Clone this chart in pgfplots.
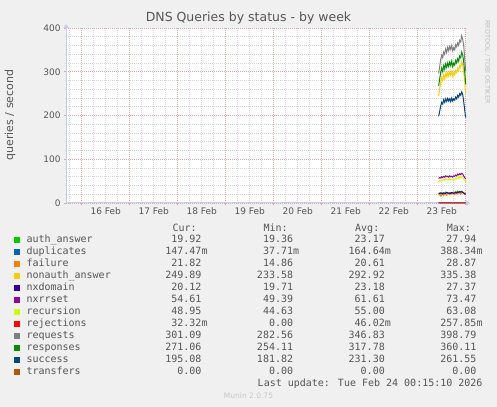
\documentclass[border=0pt]{standalone}
\usepackage{fontspec}
\setmainfont{DejaVu Sans}
\newfontfamily\mono{DejaVu Sans Mono}
\usepackage{pgfplots}
\usepackage{pgfplotstable}
\pgfplotsset{compat=1.18}
\usetikzlibrary{arrows.meta}

\definecolor{bgcol}{HTML}{F0F0F0}
\definecolor{txtcol}{HTML}{555555}
\definecolor{axcol}{HTML}{C4CCF2}
\definecolor{majgrid}{HTML}{E0A8A8}
\definecolor{mingrid}{HTML}{D8D8D8}
\definecolor{cAA}{HTML}{00CC00}
\definecolor{cDU}{HTML}{0066B3}
\definecolor{cFA}{HTML}{FF8000}
\definecolor{cNA}{HTML}{FFCC00}
\definecolor{cND}{HTML}{330099}
\definecolor{cNR}{HTML}{990099}
\definecolor{cRC}{HTML}{CCFF00}
\definecolor{cRJ}{HTML}{FF0000}
\definecolor{cRQ}{HTML}{808080}
\definecolor{cRS}{HTML}{008F00}
\definecolor{cSU}{HTML}{00487D}
\definecolor{cTR}{HTML}{B35A00}

\pgfplotstableread{
h aa du fa na nd nr rc rj rq rs su tr
178.5 22 0.15 18 245 21 56 49 0.03 296 268 198 0
179 23 0.16 20 262 22 58 51 0.05 312 284 210 0
179.5 21 0.14 16 276 23 57 50 0.04 328 298 222 0
180 24 0.17 19 286 22 60 53 0.06 338 308 230 0
180.5 22 0.15 21 279 21 58 51 0.03 332 300 226 0
181 23 0.18 17 292 23 61 54 0.05 345 314 236 0
181.5 22 0.16 22 284 22 59 52 0.04 340 306 230 0
182 25 0.15 20 296 22 62 55 0.07 352 318 238 0
182.5 23 0.17 18 288 24 60 53 0.05 344 310 232 0
183 24 0.16 23 298 23 61 54 0.04 356 320 239 0
183.5 22 0.15 21 290 22 59 52 0.06 348 312 233 0
184 23 0.18 19 299 23 62 55 0.05 358 322 238 0
184.5 24 0.16 22 292 22 60 53 0.03 351 314 232 0
185 22 0.17 20 301 24 61 54 0.05 360 324 240 0
185.5 23 0.15 24 290 23 59 52 0.04 348 312 233 0
186 25 0.16 21 298 22 62 55 0.06 355 320 238 0
186.5 24 0.17 19 293 23 61 54 0.05 350 315 235 0
187 26 0.18 22 303 24 64 57 0.04 362 326 242 0
187.5 24 0.16 23 298 23 62 55 0.06 357 320 238 0
188 27 0.17 21 308 25 66 59 0.05 366 330 246 0
188.5 25 0.15 24 302 24 64 57 0.04 360 324 242 0
189 26 0.18 22 314 26 67 60 0.05 372 336 250 0
189.5 24 0.16 20 310 25 65 58 0.06 368 332 246 0
190 27 0.17 23 322 26 68 61 0.04 382 345 254 0
190.5 25 0.16 25 315 24 66 59 0.05 374 338 248 0
191 23 0.15 22 300 23 62 55 0.04 360 322 232 0
191.5 21 0.14 20 278 21 58 51 0.03 330 300 212 0
192 19.92 0.147 21.82 249.89 20.12 54.61 48.95 0.032 301.09 271.06 195.08 0
}\data

\begin{document}
\begin{tikzpicture}
\fill[bgcol] (0bp,0bp) rectangle (497bp,407bp);
\begin{axis}[
  at={(66.2bp,204bp)}, anchor=south west,
  scale only axis, width=400bp, height=175bp,
  xmin=-7.75, xmax=192.25, ymin=0, ymax=400,
  clip=false,
  axis background/.style={fill=white},
  axis x line=bottom, axis y line=left,
  axis line style={draw=axcol, line width=1bp, -{Triangle[length=4bp,width=5bp]}, shorten >=-4bp},
  xtick={0,24,...,192}, xticklabels={,,,,,,,,,},
  extra x ticks={12,36,...,180},
  extra x tick labels={16 Feb,17 Feb,18 Feb,19 Feb,20 Feb,21 Feb,22 Feb,23 Feb},
  extra x tick style={grid=none, major tick length=0pt},
  minor xtick={-6,0,...,192},
  ytick={0,100,...,400},
  minor ytick={0,20,...,400},
  grid=both,
  major grid style={draw=majgrid, line width=0.8bp, dash pattern=on 1bp off 1bp},
  minor grid style={draw=mingrid, line width=0.7bp, dash pattern=on 1bp off 1bp},
  tick align=outside,
  major tick length=2.5bp, minor tick length=1.5bp,
  major tick style={draw=majgrid, solid, line width=0.8bp},
  minor tick style={draw=mingrid, solid, line width=0.8bp},
  /pgf/number format/assume math mode=true,
  ticklabel style={font=\fontsize{9bp}{10bp}\selectfont, text=txtcol, inner sep=3bp},
  xticklabel style={yshift=-1bp},
  every axis plot/.append style={line width=1bp, no marks},
]
\addplot[cAA] table[x=h,y=aa] {\data};
\addplot[cDU] table[x=h,y=du] {\data};
\addplot[cFA] table[x=h,y=fa] {\data};
\addplot[cNA] table[x=h,y=na] {\data};
\addplot[cND] table[x=h,y=nd] {\data};
\addplot[cNR] table[x=h,y=nr] {\data};
\addplot[cRC] table[x=h,y=rc] {\data};
\addplot[cRJ] table[x=h,y=rj] {\data};
\addplot[cRQ] table[x=h,y=rq] {\data};
\addplot[cRS] table[x=h,y=rs] {\data};
\addplot[cSU] table[x=h,y=su] {\data};
\addplot[cTR] table[x=h,y=tr] {\data};
\end{axis}

% title and labels
\node[text=txtcol, font=\fontsize{12.5bp}{14bp}\selectfont] at (248.5bp,389bp) {DNS Queries by status - by week};
\node[text=txtcol, rotate=90, font=\fontsize{11bp}{13bp}\selectfont] at (10bp,292bp) {queries / second};
\node[text=black!25, rotate=-90, font=\fontsize{6.5bp}{8bp}\selectfont] at (487.5bp,345bp) {RRDTOOL / TOBI OETIKER};

% legend
\begin{scope}[every node/.style={text=txtcol, font=\mono\fontsize{10bp}{12bp}\selectfont, inner sep=0pt}]
\node[anchor=base west] at (172.3bp,175.2bp) {Cur:};
\node[anchor=base west] at (263.3bp,175.2bp) {Min:};
\node[anchor=base west] at (355bp,175.2bp) {Avg:};
\node[anchor=base west] at (446.7bp,175.2bp) {Max:};
\foreach \i/\c/\n/\a/\b/\d/\e in {
  0/cAA/auth\_answer/19.92/19.36/23.17/27.94,
  1/cDU/duplicates/147.47\rlap{m}/37.71\rlap{m}/164.64\rlap{m}/388.34\rlap{m},
  2/cFA/failure/21.82/14.86/20.61/28.87,
  3/cNA/nonauth\_answer/249.89/233.58/292.92/335.38,
  4/cND/nxdomain/20.12/19.71/23.18/27.37,
  5/cNR/nxrrset/54.61/49.39/61.61/73.47,
  6/cRC/recursion/48.95/44.63/55.00/63.08,
  7/cRJ/rejections/32.32\rlap{m}/0.00/46.02\rlap{m}/257.85\rlap{m},
  8/cRQ/requests/301.09/282.56/346.83/398.79,
  9/cRS/responses/271.06/254.11/317.78/360.11,
  10/cSU/success/195.08/181.82/231.30/261.55,
  11/cTR/transfers/0.00/0.00/0.00/0.00}{
  \pgfmathsetmacro{\yb}{164.2-12*\i}
  \pgfmathsetmacro{\ys}{163.7-12*\i}
  \fill[\c] (14bp,\ys bp) rectangle ++(6bp,6bp);
  \node[anchor=base west] at (26.3bp,\yb bp) {\n};
  \node[anchor=base east] at (201.7bp,\yb bp) {\a};
  \node[anchor=base east] at (293.3bp,\yb bp) {\b};
  \node[anchor=base east] at (385bp,\yb bp) {\d};
  \node[anchor=base east] at (476.7bp,\yb bp) {\e};
}
\node[anchor=base east] at (482.7bp,20.2bp) {Last update: Tue Feb 24 00:15:10 2026};
\end{scope}
\node[text=black!22, font=\fontsize{7.5bp}{9bp}\selectfont] at (248.5bp,11.3bp) {Munin 2.0.75};
\end{tikzpicture}
\end{document}
